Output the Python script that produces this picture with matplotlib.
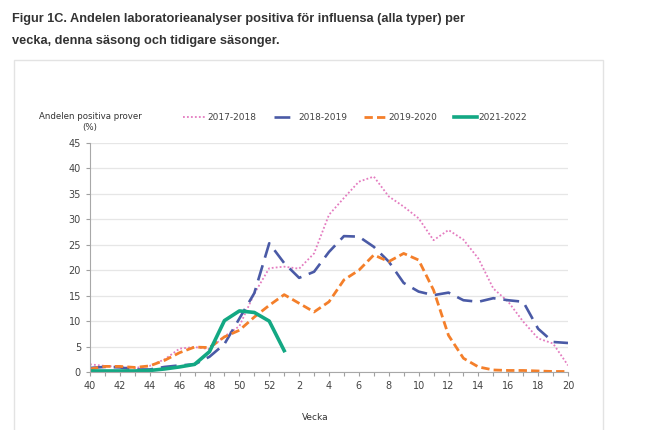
import numpy as np
import matplotlib
matplotlib.use("Agg")
import matplotlib.pyplot as plt
from matplotlib.patches import Rectangle

weeks = list(range(40, 53)) + list(range(1, 21))
tick_labels = [str(w) if w % 2 == 0 else "" for w in weeks]

s2017 = [1.5, 1.2, 1.0, 0.8, 1.2, 2.5, 4.6, 4.9, 4.5, 7.0, 9.0, 15.4, 20.4,
         20.7, 20.3, 23.3, 30.9, 34.2, 37.4, 38.4, 34.5, 32.5, 30.2, 25.9,
         27.9, 26.0, 22.3, 16.4, 13.8, 9.9, 6.6, 5.6, 1.3]
s2018 = [0.8, 1.0, 0.9, 0.5, 0.5, 1.0, 1.3, 1.5, 3.0, 5.5, 10.5, 15.5, 25.3,
         21.4, 18.5, 19.7, 23.6, 26.7, 26.6, 24.6, 21.7, 17.5, 15.8, 15.1,
         15.6, 14.1, 13.8, 14.5, 14.1, 13.8, 8.5, 5.9, 5.7]
s2019 = [0.6, 1.1, 1.1, 0.9, 1.2, 2.3, 3.8, 4.9, 4.8, 6.9, 8.2, 10.8, 13.1,
         15.2, 13.5, 11.8, 13.8, 18.1, 20.0, 23.0, 21.7, 23.3, 22.0, 16.1,
         7.2, 2.7, 1.0, 0.4, 0.3, 0.3, 0.2, 0.1, 0.1]
s2021 = [0.2, 0.2, 0.2, 0.2, 0.3, 0.6, 1.0, 1.5, 4.0, 10.1, 12.0, 11.7, 10.0,
         4.2]

x = np.arange(len(weeks))

fig = plt.figure(figsize=(6.52, 4.30), dpi=100)

# title and chart frame
title_font = dict(fontsize=9.2, fontweight="bold", color="#333333",
                  family="Liberation Sans", va="baseline")
fig.text(12 / 652, 1 - 22 / 430,
         "Figur 1C. Andelen laboratorieanalyser positiva för influensa (alla typer) per",
         **title_font)
fig.text(12 / 652, 1 - 44 / 430,
         "vecka, denna säsong och tidigare säsonger.", **title_font)
fig.patches.append(Rectangle((14 / 652, -0.02), 589 / 652, 1 - 60 / 430 + 0.02,
                             transform=fig.transFigure, fill=False,
                             edgecolor="#e3e3e3", linewidth=1))

ax = fig.add_axes([90 / 652, 1 - 372 / 430, 478 / 652, 229 / 430])

ax.plot(x, s2017, color="#e47cc0", linestyle=(0, (1, 1.2)), linewidth=1.3,
        label="2017-2018")
ax.plot(x, s2018, color="#4a5aa6", linestyle=(0, (6, 3)), linewidth=1.9,
        label="2018-2019")
ax.plot(x, s2019, color="#f47f2a", linestyle=(0, (3, 1.5)), linewidth=2.0,
        label="2019-2020")
ax.plot(x[:len(s2021)], s2021, color="#13a883", linewidth=2.6,
        label="2021-2022")

ax.set_xlim(0, len(weeks) - 1)
ax.set_ylim(0, 45)
ax.set_yticks(range(0, 46, 5))
ax.set_xticks(x)
ax.set_xticklabels(tick_labels)
ax.tick_params(axis="both", labelsize=7, labelcolor="#444444", length=3,
               width=0.8, color="#a0a0a0")
ax.grid(axis="y", color="#e6e6e6", linewidth=0.9)
ax.set_axisbelow(True)
for side in ["top", "right"]:
    ax.spines[side].set_visible(False)
for side in ["left", "bottom"]:
    ax.spines[side].set_color("#a8a8a8")

fig.text(90 / 652, 1 - 122 / 430, "Andelen positiva prover\n(%)",
         fontsize=6.2, color="#333333", ha="center", va="center",
         linespacing=1.3)
fig.text(315 / 652, 1 - 417 / 430, "Vecka", fontsize=6.5, color="#333333",
         ha="center", va="center")

ax.legend(loc="center left", bbox_to_anchor=(183 / 652, 1 - 118 / 430),
          bbox_transform=fig.transFigure, ncol=4, frameon=False, fontsize=6.5,
          handlelength=2.5, handletextpad=0.2, columnspacing=1.9,
          borderpad=0, borderaxespad=0, labelcolor="#444444")

fig.savefig("out.png", dpi=100)
